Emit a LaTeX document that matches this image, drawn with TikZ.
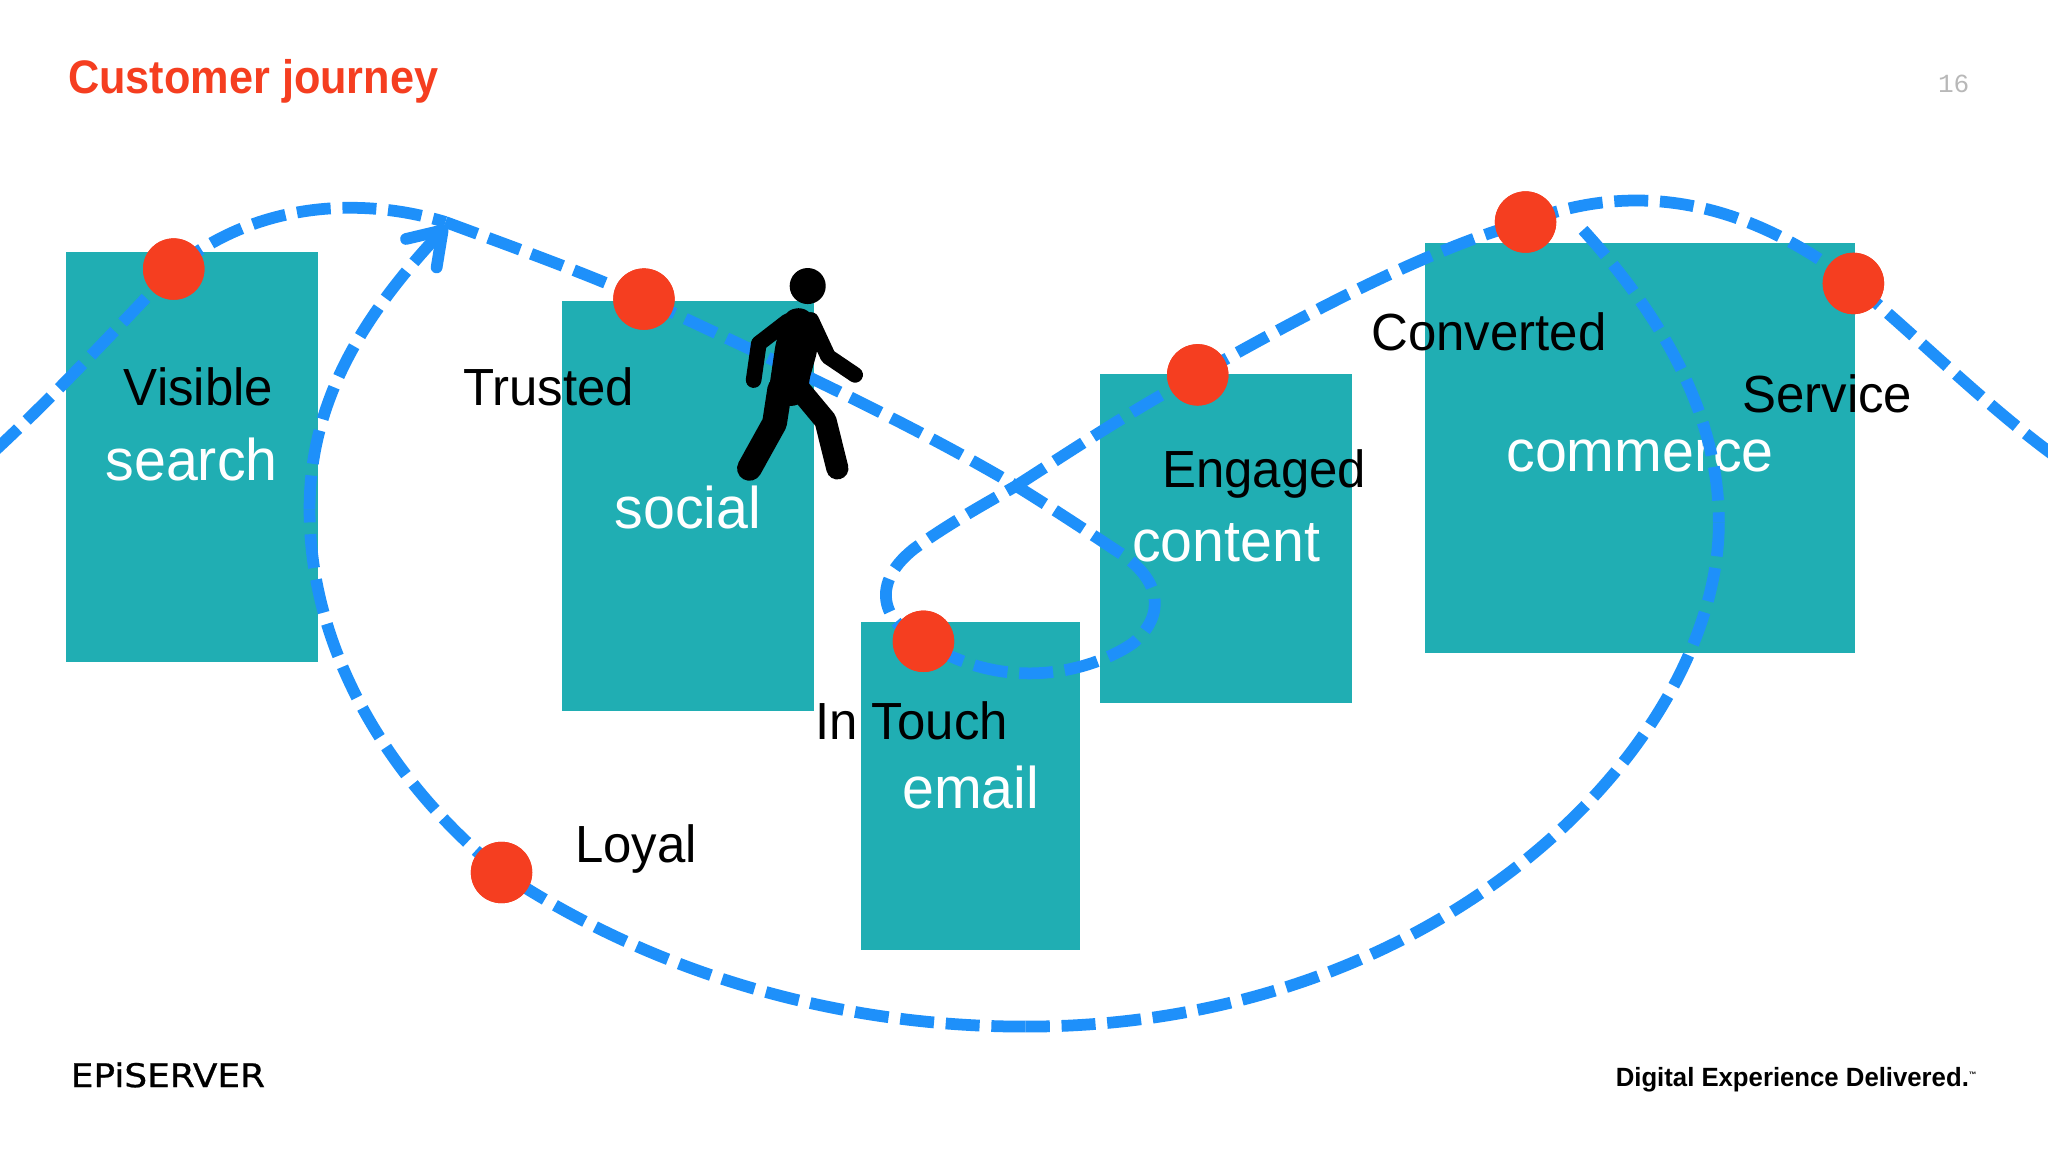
\documentclass[tikz,border=0pt]{standalone}
\usepackage{fontspec}
\setmainfont{Liberation Sans}[FakeStretch=0.975]
\newfontfamily\titlefont{Liberation Sans}[FakeStretch=0.92]
\newfontfamily\logofont{DejaVu Sans}[FakeStretch=1.1,FakeBold=0.7]
\setmonofont{Liberation Mono}
\usetikzlibrary{calc,positioning,arrows.meta}
\definecolor{boxteal}{HTML}{20AEB3}
\definecolor{dotred}{HTML}{F53E20}
\definecolor{pathblue}{HTML}{1E90FA}

\begin{document}
\begin{tikzpicture}[x=1pt, y=-1pt]
        \tikzstyle{box} = [shape=rectangle, anchor=north west, inner sep=0pt, fill=boxteal, text=white, text height=35pt, text depth=0pt, font=\fontsize{45}{45}\selectfont]
        \tikzstyle{dot} = [shape=circle, fill=dotred, minimum width=47pt, inner sep=0pt]
        \tikzstyle{stage} = [inner sep=0pt, text=black, text height=29pt, text depth=0pt, font=\fontsize{40}{40}\selectfont]
        \tikzstyle{journey} = [draw=pathblue, line width=9pt, dash pattern=on 26pt off 9pt]
        \useasboundingbox [fill=white] (0,0) rectangle (1568,882);

        % title and footer
        \node [anchor=west, inner sep=0pt, text=dotred, name=title] at (52,62) {\titlefont\bfseries\fontsize{36}{36}\selectfont Customer journey};
        \node [anchor=east, inner sep=0pt, text=black!28, name=page] at (1508,64) {\ttfamily\fontsize{20}{20}\selectfont 16};
        \node [anchor=west, inner sep=0pt, name=logo] at (54,823) {\logofont\fontsize{25}{25}\selectfont EPiSERVER};
        \node [anchor=east, inner sep=0pt, name=claim] at (1514,827) {\bfseries\fontsize{20.2}{20.2}\selectfont Digital Experience Delivered.\textsuperscript{\fontsize{6}{6}\selectfont ™}};

        % boxes
        \node [box, minimum width=193pt, minimum height=314pt, name=search] at (50,193) {search};
        \node [box, minimum width=193pt, minimum height=314pt, name=social] at (430,230) {social};
        \node [box, minimum width=168pt, minimum height=251pt, name=email] at (659,476) {email};
        \node [box, minimum width=193pt, minimum height=252pt, name=content] at (842,286) {content};
        \node [box, minimum width=329pt, minimum height=314pt, name=commerce] at (1091,186) {commerce};

        % dots, placed here so the curves can use them
        \node [dot, name=visible] at (133,206) {};
        \node [dot, name=trusted] at (493,229) {};
        \node [dot, name=intouch] at (707,491) {};
        \node [dot, name=engaged] at (917,287) {};
        \node [dot, name=converted] at (1168,170) {};
        \node [dot, name=service] at (1419,217) {};
        \node [dot, name=loyal] at (384,668) {};

        \coordinate (leftend) at (-5,346);
        \coordinate (rightend) at (1573,349);
        \coordinate (cross) at (778,372);
        \coordinate (peak) at (341,170);
        \coordinate (tip) at (342,173);
        \coordinate (branch) at (1212,176);
        \coordinate (side) at (1316,400);
        \coordinate (bottom) at (785,786);
        \coordinate (back) at (237,390);

        % upper curve
        \draw [journey] (leftend) .. controls (50,295) and (95,245) .. (visible.center);
        \draw [journey] (visible.center) .. controls (195,155) and (275,150) .. (peak);
        \draw [journey] (peak) .. controls (395,190) and (445,208) .. (trusted.center);
        \draw [journey] (trusted.center) .. controls (590,275) and (690,320) .. (cross);
        \draw [journey] (cross) .. controls (815,395) and (840,412) .. (860,425) .. controls (888,445) and (893,470) .. (868,492) .. controls (843,510) and (775,535) .. (intouch.center);
        \draw [journey] (intouch.center) .. controls (680,480) and (662,450) .. (700,420) .. controls (725,402) and (750,388) .. (cross);
        \draw [journey] (cross) .. controls (820,345) and (870,312) .. (engaged.center);
        \draw [journey] (engaged.center) .. controls (1000,240) and (1095,190) .. (converted.center);
        \draw [journey] (converted.center) .. controls (1250,138) and (1335,152) .. (service.center);
        \draw [journey] (service.center) .. controls (1470,260) and (1520,310) .. (rightend);

        % lower curve
        \draw [journey] (branch) .. controls (1275,245) and (1316,320) .. (side);
        \draw [journey] (side) .. controls (1316,565) and (1110,786) .. (bottom);
        \draw [journey] (bottom) .. controls (640,786) and (500,745) .. (loyal.center);
        \draw [journey] (loyal.center) .. controls (300,600) and (237,500) .. (back);
        \draw [journey, {-Straight Barb[length=24pt, width=32pt, line width=9pt, round]}] (back) .. controls (237,310) and (275,245) .. (tip);

        % dots again on top of the curves
        \foreach \dotname in {visible,trusted,intouch,engaged,converted,service,loyal}
            \fill [dotred] (\dotname.center) circle (23.5pt);

        % walker
        \fill [black] (618.4,219) circle (13.8pt);
        \fill [black, rounded corners=5pt] (614,235) -- (625,243) -- (626,268) -- (619,293) -- (620,305) -- (606,312) -- (588,304) -- (589,296) -- (594,262) -- (602,238) -- cycle;
        \draw [black, line width=12pt, line cap=round, line join=round] (603,246) -- (581,263) -- (577,291);
        \draw [black, line width=12pt, line cap=round, line join=round] (621,245) -- (634,273) -- (654.7,287);
        \draw [black, line width=19pt, line cap=round, line join=round] (597,298) -- (593,324) -- (573.8,358.6);
        \draw [black, line width=17pt, line cap=round, line join=round] (612,298) -- (632,322) -- (641.1,358.6);

        % labels
        \node [stage, name=lvisible] at (152,296) {Visible};
        \node [stage, name=ltrusted] at (420,296) {Trusted};
        \node [stage, name=lconverted] at (1140,254) {Converted};
        \node [stage, name=lservice] at (1399,301) {Service};
        \node [stage, name=lengaged] at (968,359) {Engaged};
        \node [stage, name=lintouch] at (698,552) {In Touch};
        \node [stage, name=lloyal] at (487,646) {Loyal};
\end{tikzpicture}
\end{document}
